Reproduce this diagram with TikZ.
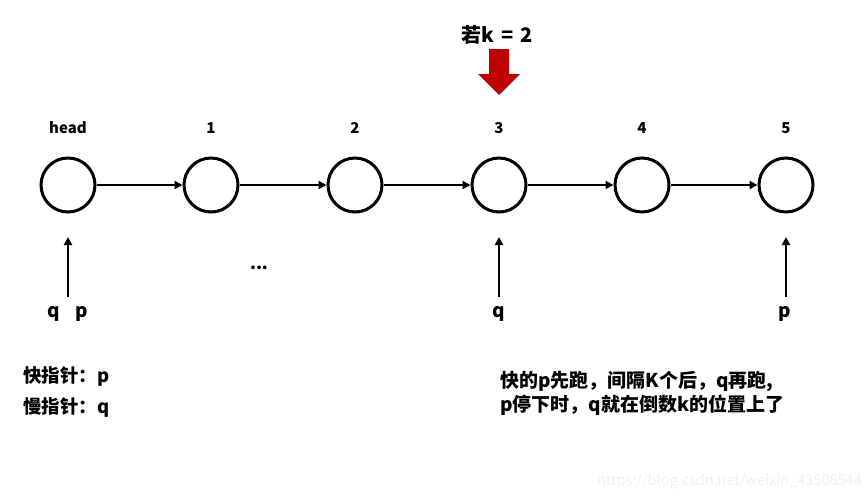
\documentclass[tikz,border=0pt]{standalone}
\usepackage{fontspec}
\setmainfont{Noto Sans CJK SC}
\usetikzlibrary{arrows.meta}
\begin{document}
\begin{tikzpicture}[x=1pt,y=-1pt,
  listnode/.style={circle,draw=black,line width=3pt,minimum size=54pt,inner sep=0pt},
  lbl/.style={font=\fontsize{15}{18}\selectfont\bfseries,inner sep=0pt},
  ptr/.style={font=\fontsize{19}{22}\selectfont\bfseries,inner sep=0pt},
  txt/.style={font=\fontsize{18.5}{24}\selectfont\bfseries,inner sep=0pt,anchor=west,align=left},
  link/.style={line width=2.8pt,-{Triangle[length=8pt,width=8pt]}},
  up/.style={line width=2.8pt,-{Triangle[length=8pt,width=8pt]}}
]
\useasboundingbox (0,0) rectangle (867,501);
\fill[white] (0,0) rectangle (867,501);

% list nodes
\node[listnode] (n0) at (68,185) {};
\node[listnode] (n1) at (211,185) {};
\node[listnode] (n2) at (355,185) {};
\node[listnode] (n3) at (499,185) {};
\node[listnode] (n4) at (642,185) {};
\node[listnode] (n5) at (786,185) {};

% labels
\node[lbl] (l0) at (68,128) {head};
\node[lbl] (l1) at (211,128) {1};
\node[lbl] (l2) at (355,128) {2};
\node[lbl] (l3) at (499,128) {3};
\node[lbl] (l4) at (642,128) {4};
\node[lbl] (l5) at (786,128) {5};

% links
\draw[link] (n0) -- (n1);
\draw[link] (n1) -- (n2);
\draw[link] (n2) -- (n3);
\draw[link] (n3) -- (n4);
\draw[link] (n4) -- (n5);

% pointer arrows
\coordinate (a0s) at (68,297);
\coordinate (a0e) at (68,237);
\coordinate (a3s) at (499,297);
\coordinate (a3e) at (499,237);
\coordinate (a5s) at (786,297);
\coordinate (a5e) at (786,237);
\draw[up] (a0s) -- (a0e);
\draw[up] (a3s) -- (a3e);
\draw[up] (a5s) -- (a5e);

\node[ptr] (pq) at (54,314) {q};
\node[ptr] (pp) at (82,314) {p};
\node[ptr] (q3) at (499,314) {q};
\node[ptr] (p5) at (785,314) {p};

\node[font=\fontsize{17}{20}\selectfont\bfseries,inner sep=0pt] (dots) at (259,268) {...};

% top annotation
\node[font=\fontsize{20}{24}\selectfont\bfseries,inner sep=0pt] (kval) at (497,35) {若k\hspace{0.35em}=\hspace{0.35em}2};
\fill[red!75!black] (489,49) -- (509,49) -- (509,74) -- (520,74) -- (499,95) -- (478,74) -- (489,74) -- cycle;

% notes
\node[txt] (fast) at (23,376) {快指针：p};
\node[txt] (slow) at (23,407) {慢指针：q};
\node[txt,font=\fontsize{19}{24}\selectfont\bfseries] (desc) at (500,393) {快的p先跑，间隔K个后，q再跑,\\p停下时，q就在倒数k的位置上了};

% watermark
\node[font=\fontsize{14.5}{16}\selectfont,text=black!6,inner sep=0pt,anchor=east] (wm) at (862,482) {https://blog.csdn.net/weixin\_43508544};
\end{tikzpicture}
\end{document}
